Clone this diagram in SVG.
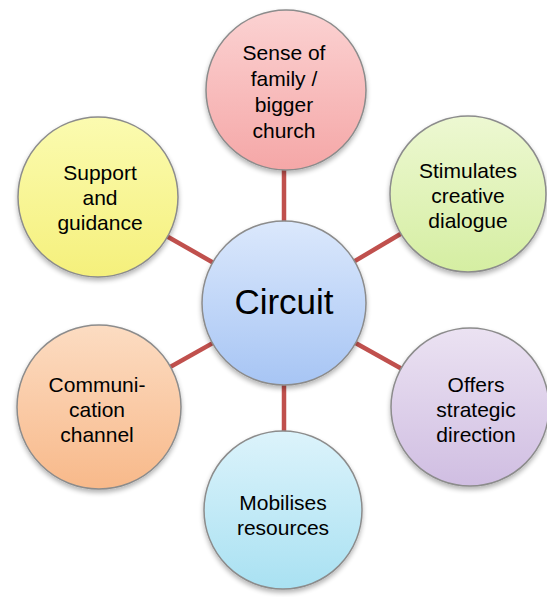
<svg xmlns="http://www.w3.org/2000/svg" width="547" height="597" viewBox="0 0 547 597">
<style>
  .node circle { stroke: #8c8c8c; stroke-width: 1.5; filter: url(#sh); }
  .lbl { font-family: "Liberation Sans", Arial, sans-serif; font-size: 21px; fill: #000; text-anchor: middle; }
  .big { font-size: 35px; }
  .conn line { stroke: #c0504d; stroke-width: 4.5; }
</style>
<defs>
  <filter id="sh" x="-20%" y="-20%" width="140%" height="145%">
    <feGaussianBlur in="SourceAlpha" stdDeviation="2.5"/>
    <feOffset dy="3" result="b"/>
    <feComponentTransfer><feFuncA type="linear" slope="0.3"/></feComponentTransfer>
    <feMerge><feMergeNode/><feMergeNode in="SourceGraphic"/></feMerge>
  </filter>
  <linearGradient id="gPink" x1="0" y1="0" x2="0" y2="1"><stop offset="0" stop-color="#fbd2d2"/><stop offset="1" stop-color="#f5a7a7"/></linearGradient>
  <linearGradient id="gGreen" x1="0" y1="0" x2="0" y2="1"><stop offset="0" stop-color="#edf8d2"/><stop offset="1" stop-color="#d5eea2"/></linearGradient>
  <linearGradient id="gYellow" x1="0" y1="0" x2="0" y2="1"><stop offset="0" stop-color="#fbfbb0"/><stop offset="1" stop-color="#f5f07c"/></linearGradient>
  <linearGradient id="gOrange" x1="0" y1="0" x2="0" y2="1"><stop offset="0" stop-color="#fcdcc2"/><stop offset="1" stop-color="#f8b98a"/></linearGradient>
  <linearGradient id="gCyan" x1="0" y1="0" x2="0" y2="1"><stop offset="0" stop-color="#dcf3fb"/><stop offset="1" stop-color="#a9e1f2"/></linearGradient>
  <linearGradient id="gPurple" x1="0" y1="0" x2="0" y2="1"><stop offset="0" stop-color="#ebe2f2"/><stop offset="1" stop-color="#d0bee2"/></linearGradient>
  <linearGradient id="gBlue" x1="0" y1="0" x2="0" y2="1"><stop offset="0" stop-color="#dbe8fc"/><stop offset="1" stop-color="#a7c5f4"/></linearGradient>
</defs>
<g class="conn" id="connectors">
  <line x1="284" y1="303" x2="284" y2="89"/>
  <line x1="284" y1="303" x2="468" y2="194"/>
  <line x1="284" y1="303" x2="470" y2="407"/>
  <line x1="284" y1="303" x2="284" y2="510"/>
  <line x1="284" y1="303" x2="99" y2="407"/>
  <line x1="284" y1="303" x2="98" y2="197"/>
</g>
<g class="node" id="n-family">
  <circle cx="286" cy="90" r="80" fill="url(#gPink)"/>
  <text class="lbl" x="284" y="60">Sense of</text>
  <text class="lbl" x="284" y="86">family /</text>
  <text class="lbl" x="284" y="112">bigger</text>
  <text class="lbl" x="284" y="138">church</text>
</g>
<g class="node" id="n-dialogue">
  <circle cx="468" cy="194" r="78" fill="url(#gGreen)"/>
  <text class="lbl" x="468" y="178">Stimulates</text>
  <text class="lbl" x="468" y="203">creative</text>
  <text class="lbl" x="468" y="228">dialogue</text>
</g>
<g class="node" id="n-direction">
  <circle cx="470" cy="407" r="79" fill="url(#gPurple)"/>
  <text class="lbl" x="476" y="392">Offers</text>
  <text class="lbl" x="476" y="417">strategic</text>
  <text class="lbl" x="476" y="442">direction</text>
</g>
<g class="node" id="n-resources">
  <circle cx="283" cy="510" r="79" fill="url(#gCyan)"/>
  <text class="lbl" x="283" y="510">Mobilises</text>
  <text class="lbl" x="283" y="535">resources</text>
</g>
<g class="node" id="n-communication">
  <circle cx="99" cy="407" r="82" fill="url(#gOrange)"/>
  <text class="lbl" x="97" y="392">Communi-</text>
  <text class="lbl" x="97" y="417">cation</text>
  <text class="lbl" x="97" y="442">channel</text>
</g>
<g class="node" id="n-support">
  <circle cx="98" cy="197" r="80" fill="url(#gYellow)"/>
  <text class="lbl" x="100" y="180">Support</text>
  <text class="lbl" x="100" y="205">and</text>
  <text class="lbl" x="100" y="230">guidance</text>
</g>
<g class="node" id="n-circuit">
  <circle cx="284" cy="303" r="82" fill="url(#gBlue)"/>
  <text class="lbl big" x="284" y="314">Circuit</text>
</g>
</svg>
